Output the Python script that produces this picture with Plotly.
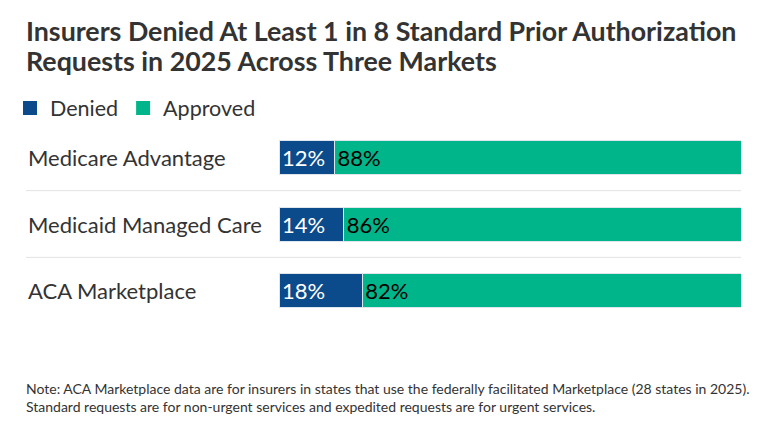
import plotly.graph_objects as go

categories = ["Medicare Advantage", "Medicaid Managed Care", "ACA Marketplace"]
denied = [12, 14, 18]
approved = [88, 86, 82]
series_names = ["Denied", "Approved"]
series_colors = ["#0b4b8c", "#00b589"]
title_lines = ["Insurers Denied At Least 1 in 8 Standard Prior Authorization",
               "Requests in 2025 Across Three Markets"]
note_text = ("Note: ACA Marketplace data are for insurers in states that use the federally facilitated Marketplace (28 states in 2025).<br>"
             "Standard requests are for non-urgent services and expedited requests are for urgent services.")

OFF = 8  # page body margin offset
W, H = 768 - 2 * OFF, 432 - 2 * OFF
# target screen-pixel positions of plot area
SX0, SX1, SY0, SY1 = 279, 741, 123.5, 324.5
L, R = SX0 - OFF, W - (SX1 - OFF)
T, B = SY0 - OFF, H - (SY1 - OFF)
pw = W - L - R
ph = H - T - B
FONT = "Lato"
TXT = "#333333"

def px_x(p):  # screen px -> paper x
    return (p - OFF - L) / pw

def px_y(p):  # screen px -> paper y
    return (H - B - (p - OFF)) / ph

fig = go.Figure()
for vals, name, color, tcolor in zip([denied, approved], series_names, series_colors, ["white", "black"]):
    fig.add_trace(go.Bar(
        y=categories, x=vals, name=name, orientation="h", showlegend=False,
        marker=dict(color=color, line=dict(color="#dfe6ee", width=1)),
        text=[f"{v}%" for v in vals], textposition="inside", insidetextanchor="start",
        textfont=dict(color=tcolor, size=22, family=FONT), hoverinfo="skip",
    ))
# legend entries (square swatches)
for name, color in zip(series_names, series_colors):
    fig.add_trace(go.Scatter(
        x=[None], y=[None], mode="markers", name=name,
        marker=dict(symbol="square", size=14, color=color), hoverinfo="skip",
    ))

annotations = []
for c in categories:
    annotations.append(dict(
        x=px_x(26), xref="paper", y=c, yref="y", text=c, showarrow=False,
        xanchor="left", yanchor="middle", font=dict(size=22, color=TXT, family=FONT),
    ))
for line, yc in zip(title_lines, [30, 60]):
    annotations.append(dict(
        x=px_x(24), xref="paper", y=px_y(yc), yref="paper",
        text=f"<b>{line}</b>", showarrow=False, xanchor="left", yanchor="middle",
        font=dict(size=26.8, color=TXT, family=FONT),
    ))
annotations.append(dict(
    x=px_x(24), xref="paper", y=px_y(398), yref="paper",
    text=note_text, showarrow=False, xanchor="left", yanchor="middle", align="left",
    font=dict(size=14, color=TXT, family=FONT),
))

shapes = []
for i in range(len(categories) - 1):
    shapes.append(dict(
        type="line", xref="paper", yref="y", x0=px_x(26), x1=1, y0=i + 0.5, y1=i + 0.5,
        line=dict(color="#e3e3e3", width=1), layer="below",
    ))

fig.update_layout(
    width=W, height=H,
    margin=dict(l=L, r=R, t=T, b=B, autoexpand=False),
    barmode="stack", bargap=0.49,
    plot_bgcolor="white", paper_bgcolor="white",
    font=dict(family=FONT, color=TXT),
    legend=dict(
        orientation="h", xref="container", yref="container",
        x=(10 - OFF) / W, xanchor="left", y=1 - (108 - OFF) / H, yanchor="middle",
        font=dict(size=21.5, color=TXT, family=FONT), traceorder="normal",
        bgcolor="rgba(0,0,0,0)", itemwidth=30,
    ),
    xaxis=dict(range=[0, 100], visible=False, fixedrange=True),
    yaxis=dict(categoryorder="array", categoryarray=categories, autorange="reversed",
               showticklabels=False, showgrid=False, zeroline=False, ticks=""),
    annotations=annotations,
    shapes=shapes,
    showlegend=True,
)

fig.write_html("out.html")
